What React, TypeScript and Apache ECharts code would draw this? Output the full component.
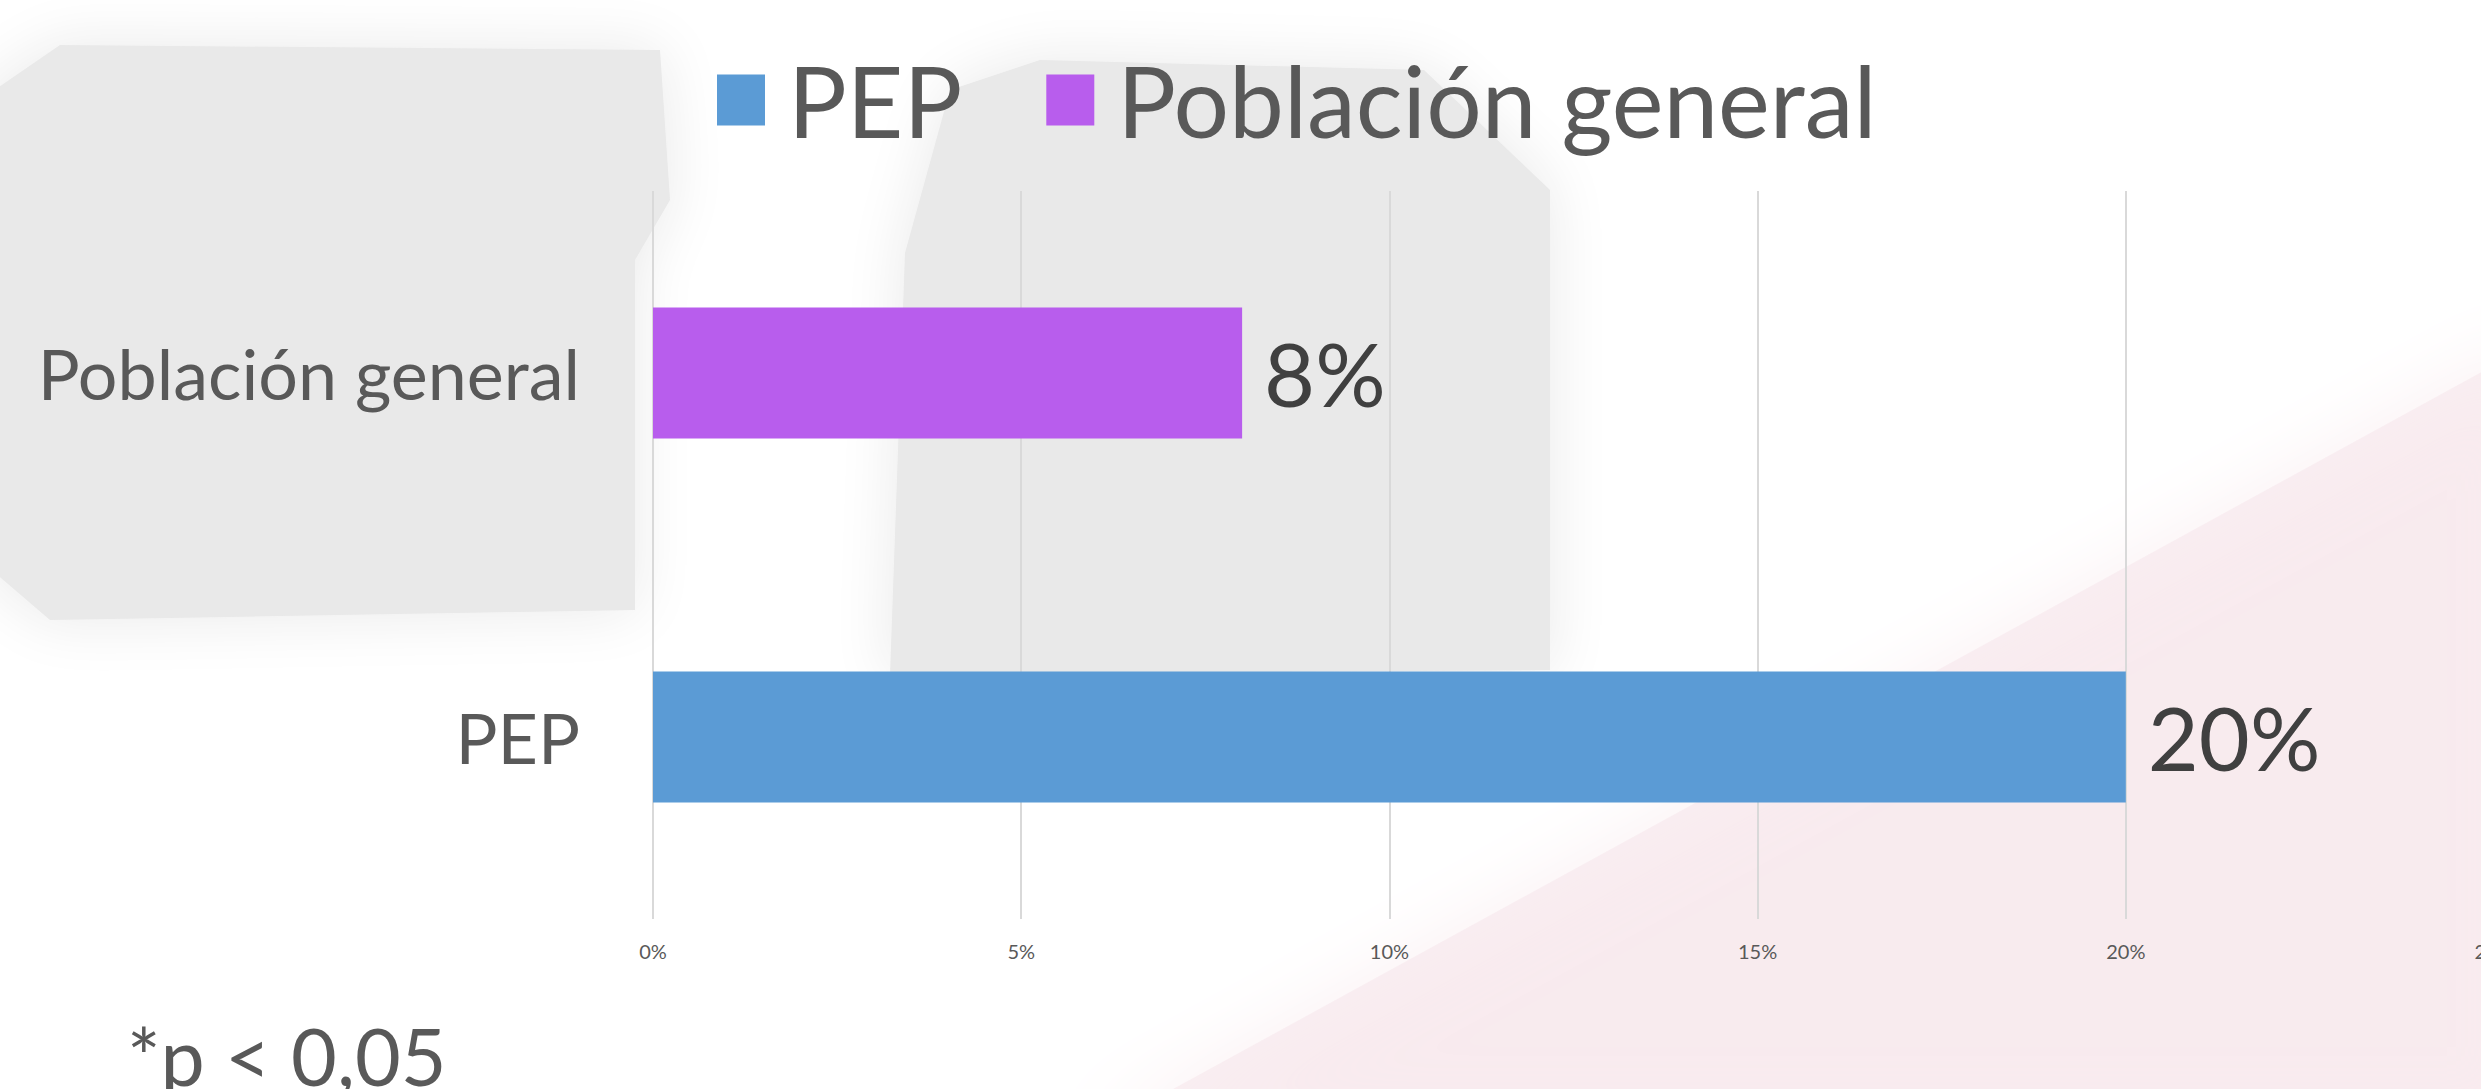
import React, { useEffect, useRef } from "react";
import * as echarts from "echarts";

const categories = ["PEP", "Población general"];
const seriesNames = ["PEP", "Población general"];
const pepValues = [20, null];
const generalValues = [null, 8];
const xTicks = [0, 5, 10, 15, 20, 25];
const footnote = "*p < 0,05";

const FONT = "Lato";

export default function App() {
  const ref = useRef<HTMLDivElement>(null);
  useEffect(() => {
    if (!ref.current) return;
    const chart = echarts.init(ref.current, null, { renderer: "svg" });
    const labelCfg = {
      show: true,
      position: "right",
      distance: 22,
      formatter: "{c}%",
      fontFamily: FONT,
      fontSize: 88,
      color: "#404040",
    };
    chart.setOption({
      animation: false,
      backgroundColor: "#ffffff",
      textStyle: { fontFamily: FONT },
      legend: {
        data: seriesNames,
        left: 712,
        top: 43,
        icon: "rect",
        itemWidth: 48,
        itemHeight: 51,
        itemGap: 84,
        textStyle: {
          fontFamily: FONT,
          fontSize: 98,
          color: "#595959",
          padding: [0, 0, 0, 18],
          lineHeight: 104,
        },
      },
      grid: {
        left: 653,
        right: -13,
        top: 191,
        bottom: 170,
        containLabel: false,
        outerBoundsMode: "none",
      },
      xAxis: {
        type: "value",
        min: xTicks[0],
        max: xTicks[xTicks.length - 1],
        interval: 5,
        axisLine: { show: false },
        axisTick: { show: false },
        splitLine: { show: true, lineStyle: { color: "#d9d9d9", width: 2 } },
        axisLabel: {
          formatter: "{value}%",
          fontFamily: FONT,
          fontSize: 20,
          color: "#595959",
          margin: 22,
        },
      },
      yAxis: {
        type: "category",
        data: categories,
        axisLine: { show: false },
        axisTick: { show: false },
        splitLine: { show: false },
        axisLabel: {
          fontFamily: FONT,
          fontSize: 70,
          color: "#595959",
          margin: 73,
        },
      },
      graphic: [
        {
          type: "polygon",
          z: -10,
          silent: true,
          shape: {
            points: [
              [-20, 100], [60, 45], [660, 50], [670, 200], [635, 260], [635, 610], [50, 620], [-20, 560],
            ],
          },
          style: { fill: "#e9e9e9", shadowBlur: 60, shadowColor: "#e9e9e9" },
        },
        {
          type: "polygon",
          z: -10,
          silent: true,
          shape: {
            points: [
              [905, 253], [950, 90], [1040, 60], [1424, 70], [1550, 190], [1550, 670], [890, 675],
            ],
          },
          style: { fill: "#e9e9e9", shadowBlur: 60, shadowColor: "#e9e9e9" },
        },
        {
          type: "polygon",
          z: -10,
          silent: true,
          shape: {
            points: [
              [1080, 1140], [2540, 340], [2540, 1140],
            ],
          },
          style: { fill: "#f8e8ec", opacity: 0.65, shadowBlur: 80, shadowColor: "#f8e8ec" },
        },
        {
          type: "text",
          z: 10,
          style: {
            text: footnote,
            x: 127,
            y: 1055,
            fontFamily: FONT,
            fontSize: 79,
            fill: "#595959",
            verticalAlign: "middle",
          },
        },
      ],
      series: [
        {
          name: seriesNames[0],
          type: "bar",
          stack: "total",
          data: pepValues,
          barWidth: 131,
          itemStyle: { color: "#5b9bd5" },
          label: labelCfg,
        },
        {
          name: seriesNames[1],
          type: "bar",
          stack: "total",
          data: generalValues,
          barWidth: 131,
          itemStyle: { color: "#b85ded" },
          label: labelCfg,
        },
      ],
    });
    return () => chart.dispose();
  }, []);
  return (
    <div
      ref={ref}
      style={{ position: "fixed", left: 0, top: 0, width: 2481, height: 1089 }}
    />
  );
}
